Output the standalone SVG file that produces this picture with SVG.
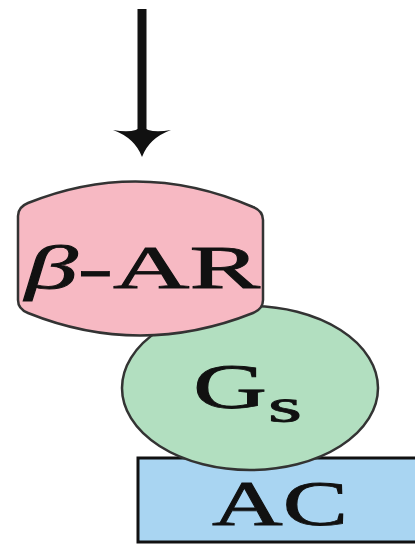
<svg xmlns="http://www.w3.org/2000/svg" width="415" height="544" viewBox="0 0 415 544">
<style>
.lbl{font-family:"Liberation Serif","DejaVu Serif",serif;fill:#111;stroke:#111;stroke-width:0.8}
.shape{stroke:#333;stroke-width:2.5}
</style>
<rect width="415" height="544" fill="#fff"/>
<g id="connectors">
<line x1="142" y1="9" x2="142" y2="140" stroke="#111" stroke-width="9"/>
<path d="M142,157 Q135,138 113,130 Q135,134 142,126 Q149,134 171,130 Q149,138 142,157 Z" fill="#111"/>
</g>
<g id="ac">
<rect x="138" y="458" width="290" height="84" fill="#a9d5f2" stroke="#111" stroke-width="3"/>
<text class="lbl" x="212" y="525" font-size="63" textLength="136" lengthAdjust="spacingAndGlyphs">AC</text>
</g>
<g id="gs">
<ellipse cx="250" cy="388" rx="128" ry="82" fill="#b2dfc0" class="shape"/>
<text class="lbl" x="193" y="408" font-size="64" textLength="74" lengthAdjust="spacingAndGlyphs">G</text>
<text class="lbl" x="268" y="422" font-size="48" textLength="34" lengthAdjust="spacingAndGlyphs">s</text>
</g>
<g id="bar">
<path d="M18,216 Q18,207 28,203 Q140,158 253,207 Q263,211 263,220 L263,300 Q263,309 253,313 Q140,358 28,313 Q18,309 18,300 Z" fill="#f7b9c3" class="shape"/>
<text class="lbl" x="25" y="288" font-size="62" textLength="235" lengthAdjust="spacingAndGlyphs"><tspan font-style="italic">β</tspan>-AR</text>
</g>
</svg>
